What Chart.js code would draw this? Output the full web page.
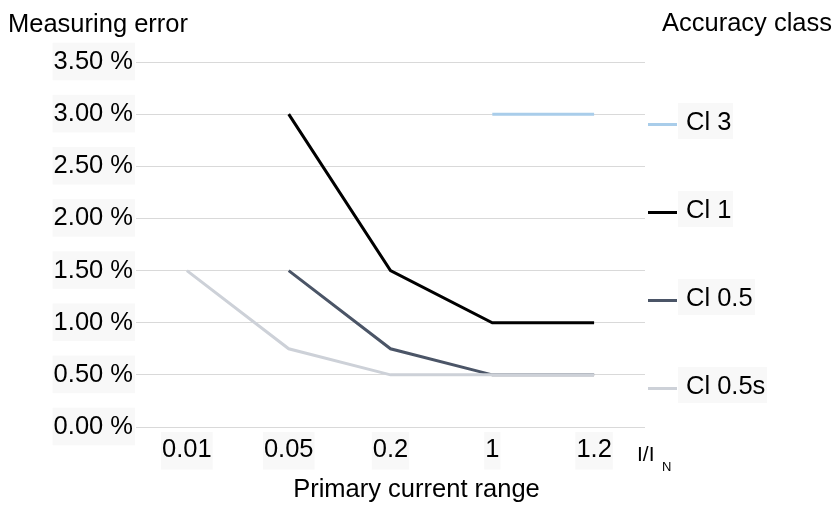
<!DOCTYPE html>
<html>
<head>
<meta charset="utf-8">
<script src="https://cdn.jsdelivr.net/npm/chart.js@4/dist/chart.umd.min.js"></script>
<style>
  html, body { margin: 0; padding: 0; background: #fff; }
  #wrap { position: relative; width: 833px; height: 509px; font-family: "Liberation Sans", Arial, sans-serif; color: #000; }
  canvas { position: absolute; left: 0; top: 0; }
  .txt { position: absolute; font-size: 25.5px; line-height: 28px; white-space: nowrap; }
  .leg { position: absolute; left: 648px; height: 36px; }
  .leg .ln { position: absolute; left: 0; top: 20px; width: 29px; height: 3px; }
  .leg .lb { position: absolute; left: 30px; top: 0; padding: 4px 2px 4px 8px; background: #f8f8f8; font-size: 25.5px; line-height: 28px; white-space: nowrap; }
</style>
</head>
<body>
<div id="wrap">
  <canvas id="chart" width="833" height="509"></canvas>
  <div class="txt" style="left:8px; top:9px;">Measuring error</div>
  <div class="txt" style="right:1px; top:8px;">Accuracy class</div>
  <div class="txt" style="left:0; width:833px; text-align:center; top:474px;">Primary current range</div>
  <div class="txt" style="left:637px; top:440px; font-size:21px;">I/I</div>
  <div class="txt" style="left:662px; top:453px; font-size:13px;">N</div>
  <div id="legend"></div>
</div>
<script>
// ── Data ──────────────────────────────────────────────────────────────────────

const CATEGORIES = ['0.01', '0.05', '0.2', '1', '1.2'];
const CL3   = [null, null, null, 3.0, 3.0];
const CL1   = [null, 3.0, 1.5, 1.0, 1.0];
const CL05  = [null, 1.5, 0.75, 0.5, 0.5];
const CL05S = [1.5, 0.75, 0.5, 0.5, 0.5];

// order: lower number is drawn on top (Cl 0.5s covers Cl 0.5 where they meet)
const SERIES = [
  { label: 'Cl 3',    data: CL3,   color: '#a9cdea', order: 2 },
  { label: 'Cl 1',    data: CL1,   color: '#000000', order: 1 },
  { label: 'Cl 0.5',  data: CL05,  color: '#4b5567', order: 3 },
  { label: 'Cl 0.5s', data: CL05S, color: '#cdd1d8', order: 0 },
];

// ── Chart ─────────────────────────────────────────────────────────────────────

const FONT = { family: '"Liberation Sans", Arial, sans-serif', size: 25.5 };

new Chart(document.getElementById('chart'), {
  type: 'line',
  data: {
    labels: CATEGORIES,
    datasets: SERIES.map(s => ({
      label: s.label,
      data: s.data,
      borderColor: s.color,
      backgroundColor: s.color,
      borderWidth: 3,
      pointRadius: 0,
      tension: 0,
      fill: false,
      spanGaps: false,
      order: s.order,
    })),
  },
  options: {
    responsive: false,
    animation: false,
    events: [],
    layout: { padding: { top: 62, right: 188, left: 0, bottom: 0 } },
    plugins: { legend: { display: false }, tooltip: { enabled: false } },
    scales: {
      x: {
        offset: true,
        grid: { display: false, drawTicks: false },
        border: { display: false },
        ticks: {
          color: '#000', font: FONT, padding: 8,
          showLabelBackdrop: true, backdropColor: '#f8f8f8',
          backdropPadding: { top: 3, bottom: 4, left: 1, right: 1 },
        },
        afterFit: s => { s.height = 82; },
      },
      y: {
        min: 0, max: 3.5,
        grid: { color: '#d9d9d9', lineWidth: 1, drawTicks: false },
        border: { display: false },
        ticks: {
          stepSize: 0.5, color: '#000', font: FONT, padding: 3,
          callback: v => v.toFixed(2) + ' %',
          showLabelBackdrop: true, backdropColor: '#f8f8f8',
          backdropPadding: { top: 4, bottom: 3, left: 1, right: 2 },
        },
        afterFit: s => { s.width = 136; },
      },
    },
  },
});

// ── Legend ────────────────────────────────────────────────────────────────────

const legend = document.getElementById('legend');
SERIES.forEach((s, i) => {
  const item = document.createElement('div');
  item.className = 'leg';
  item.style.top = (103 + i * 88) + 'px';
  const ln = document.createElement('div');
  ln.className = 'ln';
  ln.style.background = s.color;
  const lb = document.createElement('div');
  lb.className = 'lb';
  lb.textContent = s.label;
  item.appendChild(ln);
  item.appendChild(lb);
  legend.appendChild(item);
});
</script>
</body>
</html>
